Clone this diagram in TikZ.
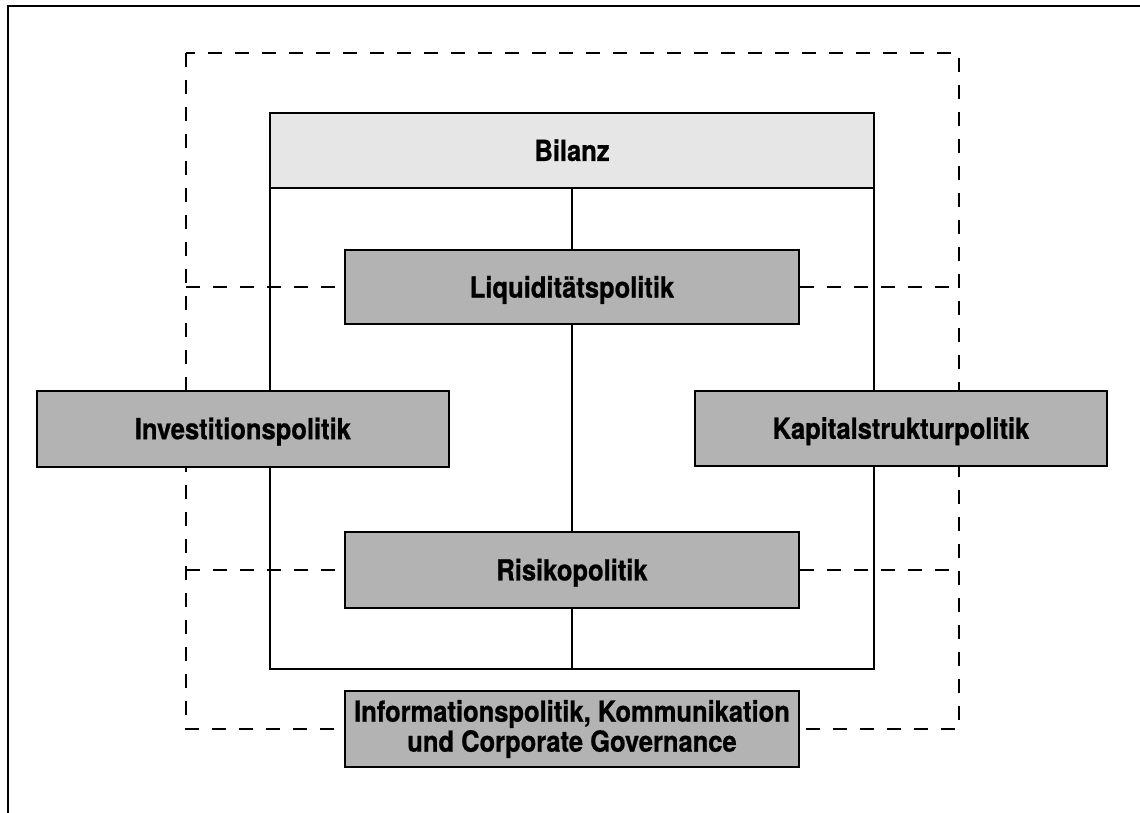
\documentclass[tikz,border=0pt]{standalone}
\usepackage{fontspec}
\newfontfamily\boxfont{TeX Gyre Heros}[FakeStretch=0.88, BoldFeatures={FakeBold=0.8}]
\definecolor{boxgray}{HTML}{B3B3B3}
\definecolor{lightgray}{HTML}{E6E6E6}
\begin{document}
\begin{tikzpicture}[x=1pt,y=-1pt,
  solidline/.style={line width=1.7pt},
  dashline/.style={line width=2pt, dash pattern=on 14pt off 13pt},
  boxstyle/.style={draw, line width=2pt, fill=boxgray, inner sep=0pt,
    font=\boxfont\bfseries\fontsize{29}{30}\selectfont},
  oneline/.style={text height=20.8pt, text depth=0pt}
]
\useasboundingbox (0,0) rectangle (1140,812);
\fill[white] (0,0) rectangle (1140,812);
% outer frame
\begin{scope}
\clip (0,0) rectangle (1140,812);
\draw[line width=2.5pt] (8,820) -- (8,6) -- (1150,6);
\end{scope}
% dashed frame
\coordinate (dtl) at (186,53);
\coordinate (dbr) at (959,729);
\draw[dashline] (dtl) rectangle (dbr);
% inner solid frame
\coordinate (itl) at (270,113);
\coordinate (ibr) at (874,669);
\coordinate (ibc) at (572,669);
\draw[solidline] (itl) rectangle (ibr);
% nodes
\node[boxstyle, oneline, fill=lightgray, minimum width=604pt, minimum height=75pt] (bil) at (572,150.5) {Bilanz};
\node[boxstyle, oneline, minimum width=454.6pt, minimum height=74.3pt] (liq) at (572,287.2) {Liquiditätspolitik};
\node[boxstyle, oneline, minimum width=454.6pt, minimum height=75.7pt] (risk) at (572,570) {Risikopolitik};
% dashed cross lines
\coordinate (dl1) at (186,287.2);
\coordinate (dr1) at (959,287.2);
\coordinate (dl2) at (186,570);
\coordinate (dr2) at (959,570);
\draw[dashline] (dl1) -- (liq.west);
\draw[dashline] (liq.east) -- (dr1);
\draw[dashline] (dl2) -- (risk.west);
\draw[dashline] (risk.east) -- (dr2);
% center connectors
\draw[solidline] (bil.south) -- (liq.north);
\draw[solidline] (liq.south) -- (risk.north);
\draw[solidline] (risk.south) -- (ibc);
% side and bottom boxes
\node[boxstyle, oneline, minimum width=412.3pt, minimum height=75.7pt] (inv) at (242.85,428.8) {Investitionspolitik};
\node[boxstyle, oneline, minimum width=412.6pt, minimum height=75.3pt] (kap) at (901,428.4) {Kapitalstrukturpolitik};
\node[boxstyle, align=center, minimum width=454.6pt, minimum height=75.7pt] (info) at (572,729) {Informationspolitik, Kommunikation\\und Corporate Governance};
\end{tikzpicture}
\end{document}
